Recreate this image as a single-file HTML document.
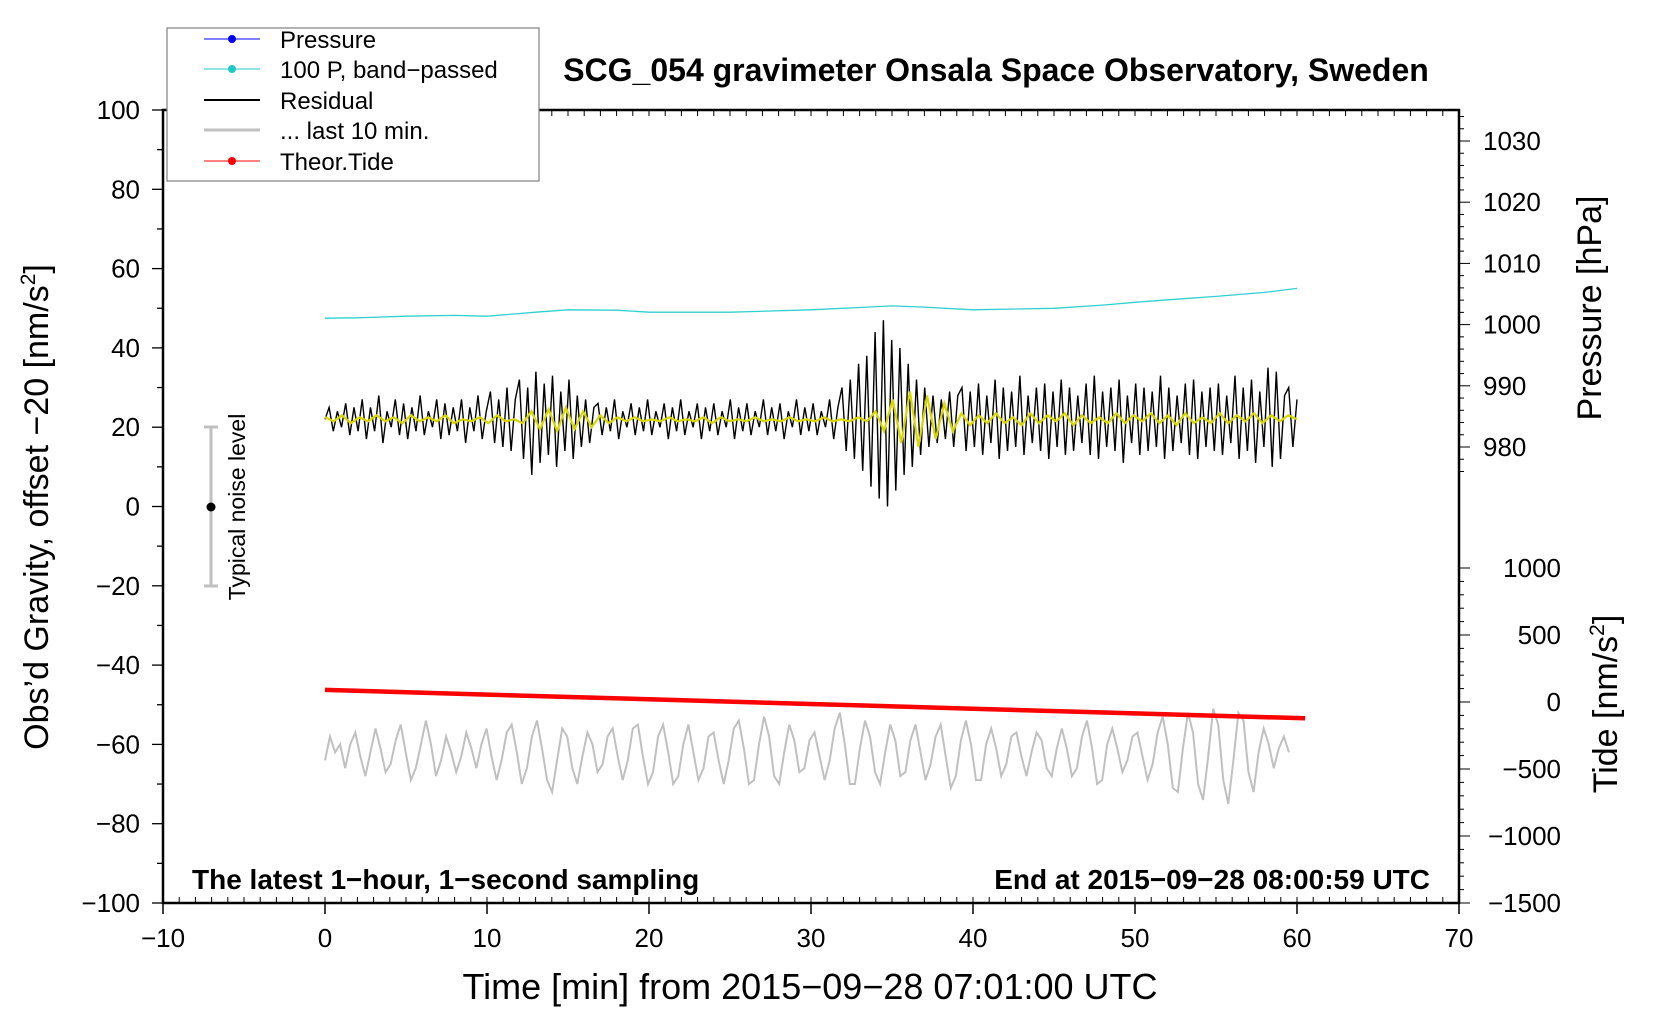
<!DOCTYPE html>
<html><head><meta charset="utf-8"><style>
html,body{margin:0;padding:0;background:#fff;}
svg{display:block;font-family:"Liberation Sans",Arial,sans-serif;}
</style></head><body>
<svg id="chart" width="1660" height="1020" viewBox="0 0 1660 1020" xmlns="http://www.w3.org/2000/svg">
<rect width="1660" height="1020" fill="#fff"/>
<g id="axes"></g>
<g id="series"></g>
<text x="996" y="81" font-size="32" font-weight="bold" text-anchor="middle">SCG_054 gravimeter Onsala Space Observatory, Sweden</text>
<text x="192" y="889" font-size="28" font-weight="bold">The latest 1−hour, 1−second sampling</text>
<text x="1430" y="889" font-size="28" font-weight="bold" text-anchor="end">End at 2015−09−28 08:00:59 UTC</text>
<text x="810" y="999" font-size="36" text-anchor="middle">Time [min] from 2015−09−28 07:01:00 UTC</text>
<text transform="translate(48,507) rotate(-90)" font-size="34" text-anchor="middle">Obs’d Gravity, offset −20 [nm/s<tspan font-size="21" dy="-13">2</tspan><tspan dy="13">]</tspan></text>
<text transform="translate(1601,308) rotate(-90)" font-size="34" text-anchor="middle">Pressure [hPa]</text>
<text transform="translate(1617,704) rotate(-90)" font-size="34" text-anchor="middle">Tide [nm/s<tspan font-size="21" dy="-13">2</tspan><tspan dy="13">]</tspan></text>
<g>
<line x1="211" y1="427" x2="211" y2="586" stroke="#c0c0c0" stroke-width="3"/>
<line x1="204" y1="427" x2="218" y2="427" stroke="#c0c0c0" stroke-width="3"/>
<line x1="204" y1="586" x2="218" y2="586" stroke="#c0c0c0" stroke-width="3"/>
<circle cx="211" cy="507" r="4.5" fill="#000"/>
<text transform="translate(245,507) rotate(-90)" font-size="23" text-anchor="middle">Typical noise level</text>
</g>
<g id="legend">
<rect x="167" y="28" width="372" height="153" fill="#fff" stroke="#808080" stroke-width="1.2"/>
<g><line x1="204" y1="39" x2="260" y2="39" stroke="#0000ff" stroke-width="1"/><circle cx="232" cy="39" r="4" fill="#0000ff"/><text x="280" y="48" font-size="24">Pressure</text></g>
<g><line x1="204" y1="69" x2="260" y2="69" stroke="#20c8c8" stroke-width="1"/><circle cx="232" cy="69" r="4" fill="#20c8c8"/><text x="280" y="78" font-size="24">100 P, band−passed</text></g>
<g><line x1="204" y1="100" x2="260" y2="100" stroke="#000" stroke-width="2"/><text x="280" y="109" font-size="24">Residual</text></g>
<g><line x1="204" y1="130" x2="260" y2="130" stroke="#c0c0c0" stroke-width="3"/><text x="280" y="139" font-size="24">... last 10 min.</text></g>
<g><line x1="204" y1="161" x2="260" y2="161" stroke="#ff0000" stroke-width="1"/><circle cx="232" cy="161" r="4" fill="#ff0000"/><text x="280" y="170" font-size="24">Theor.Tide</text></g>
</g>
</svg>
<script>
// ---- data ----
const xTicks = [-10,0,10,20,30,40,50,60,70];
const yTicks = [100,80,60,40,20,0,-20,-40,-60,-80,-100];
const pressureTicks = [1030,1020,1010,1000,990,980];
const tideTicks = [1000,500,0,-500,-1000,-1500];

const bandTimes = [0,2,5,8,10,13,15,18,20,25,30,33,35,37,40,45,48,50,53,55,58,60];
const bandValues = [47.5,47.6,48,48.2,48,49,49.6,49.5,49,49,49.6,50.2,50.6,50.3,49.6,50,50.8,51.5,52.4,53,54,55];

const residualValues = [22,25,19,24,20,26,18,25,19,
27,17,25,19,28,16,24,20,27,18,26,17,25,19,28,18,24,20,27,17,26,18,25,19,27,16,25,19,28,17,24,
29,16,27,15,30,14,27,
32,12,30,8,34,11,31,13,33,10,29,14,32,12,28,15,27,16,25,
26,18,25,19,27,17,24,20,26,18,25,19,27,18,24,20,26,17,25,19,27,18,24,20,26,17,25,19,26,18,24,20,27,17,25,19,26,18,24,20,27,18,25,19,26,17,24,20,27,18,25,19,26,18,24,20,27,17,25,
30,14,32,12,36,9,38,
5,44,2,47,0,42,4,40,8,36,10,
32,13,30,15,28,16,27,17,29,15,28,
30,14,29,15,31,13,28,16,32,12,30,14,29,15,33,13,28,16,30,14,31,12,29,15,32,13,30,14,28,16,31,13,33,12,29,15,30,14,32,11,28,16,31,13,30,14,29,15,33,12,30,14,28,16,31,13,32,12,29,15,30,14,31,13,28,16,33,12,30,14,32,11,29,15,35,10,34,12,28,30,15,27];

const filteredValues = [22.5,21.5,23,21,22.5,21.5,23,21.5,22.5,21,23,21.5,22.5,21.5,23,21,22,21.5,22.5,21,23,21.5,22,21,
24,19.5,24.5,19,25,19.5,24,20,23,21,22.5,21.5,22.5,21.5,22,21.5,22.5,21.5,22,21.5,22.5,21,22.5,21.5,22,21.5,22.5,21.5,22,21.5,22.5,21.5,22,21.5,22.5,21.5,22,21.5,22.5,21.5,
24,19,27,16,29,15,28,17,26,19,
23.5,20.5,23,21,23.5,21,22.5,20.5,23.5,21,23,21.5,23.5,20.5,23,21,22.5,21,23.5,21,23,21.5,23.5,21,23,20.5,23.5,21,22.5,21,23.5,21,23,21.5,23.5,21,23,21.5,23,22];

const gravityLastValues = [-64,-58,-62,-60,-66,-60,-57,-63,-68,-62,-56,-61,-67,-65,-59,-55,-62,-69,-66,-60,-54,-60,-68,-64,-58,-62,-67,-63,-57,-61,
-66,-60,-56,-63,-69,-64,-57,-55,-62,-70,-66,-58,-54,-61,-69,-72,-64,-56,-58,-66,-70,-63,-57,-60,-67,-65,-58,-56,-63,-69,
-64,-56,-55,-63,-70,-67,-58,-55,-62,-70,-68,-60,-55,-62,-69,-66,-58,-57,-64,-70,-64,-56,-54,-61,-70,-69,-60,-53,-58,-68,
-70,-62,-55,-59,-67,-66,-59,-57,-63,-69,-64,-56,-52,-60,-70,-70,-61,-54,-58,-67,-70,-62,-55,-59,-68,-67,-59,-55,-62,-69,
-65,-58,-55,-63,-71,-68,-59,-54,-60,-69,-69,-60,-56,-61,-68,-65,-58,-57,-63,-68,-62,-57,-59,-66,-68,-61,-56,-61,-68,-66,
-58,-54,-61,-70,-69,-60,-56,-61,-67,-64,-58,-57,-63,-69,-65,-57,-53,-60,-71,-72,-61,-52,-57,-70,-74,-63,-51,-55,-69,-75,
-64,-52,-54,-67,-72,-62,-56,-60,-66,-61,-58,-62];

const tideTimes = [0,10,20,30,40,50,60.5];
const tideValues = [90,55,20,-15,-50,-85,-122];

// ---- scales ----
const X0 = 163, X1 = 1459, Y0 = 110, Y1 = 903;
const xs = t => X0 + (t + 10) / 80 * (X1 - X0);
const ys = g => Y1 - (g + 100) / 200 * (Y1 - Y0);
const yp = p => 447 - (p - 980) * 6.12;
const yt = v => 903 - (v + 1500) / 500 * 67;

const NS = "http://www.w3.org/2000/svg";
const axes = document.getElementById('axes');
const series = document.getElementById('series');
function mk(tag, attrs, parent) {
  const e = document.createElementNS(NS, tag);
  for (const k in attrs) e.setAttribute(k, attrs[k]);
  parent.appendChild(e);
  return e;
}

const frame = mk('rect', {x:X0, y:Y0, width:X1-X0, height:Y1-Y0, fill:'none', stroke:'#000', 'stroke-width':2.5}, axes);



for (let m = -10; m <= 70; m++) {
  const x = xs(m);
  mk('line', {x1:x, y1:Y1, x2:x, y2:Y1-6, stroke:'#000', 'stroke-width':1}, axes);
  mk('line', {x1:x, y1:Y0, x2:x, y2:Y0+6, stroke:'#000', 'stroke-width':1}, axes);
}
xTicks.forEach(v => {
  const x = xs(v);
  mk('line', {x1:x, y1:Y1, x2:x, y2:Y1+11, stroke:'#000', 'stroke-width':1.5}, axes);
  const t = mk('text', {x:x, y:947, 'font-size':26, 'text-anchor':'middle'}, axes);
  t.textContent = v < 0 ? '−' + Math.abs(v) : v;
  
  
});
for (let g = -100; g <= 100; g += 10) {
  const y = ys(g);
  mk('line', {x1:X0, y1:y, x2:X0-(g % 20 === 0 ? 11 : 6), y2:y, stroke:'#000', 'stroke-width':1.3}, axes);
}
yTicks.forEach(v => {
  const t = mk('text', {x:140, y:ys(v)+9, 'font-size':26, 'text-anchor':'end'}, axes);
  t.textContent = v < 0 ? '−' + Math.abs(v) : v;
  
  
});
for (let p = 976; p <= 1034; p += 2) {
  const y = yp(p);
  mk('line', {x1:X1, y1:y, x2:X1+(p % 10 === 0 ? 11 : 5), y2:y, stroke:'#000', 'stroke-width':1}, axes);
}
pressureTicks.forEach(v => {
  const t = mk('text', {x:1483, y:yp(v)+9, 'font-size':26}, axes);
  t.textContent = v;
  
  
});
for (let v = -1500; v <= 1000; v += 100) {
  const y = yt(v);
  mk('line', {x1:X1, y1:y, x2:X1+(v % 500 === 0 ? 11 : 5), y2:y, stroke:'#000', 'stroke-width':1}, axes);
}
tideTicks.forEach(v => {
  const t = mk('text', {x:1561, y:yt(v)+9, 'font-size':26, 'text-anchor':'end'}, axes);
  t.textContent = v < 0 ? '−' + Math.abs(v) : v;
  
  
});

function pathFrom(times, vals, yfn) {
  return vals.map((v, i) => (i ? 'L' : 'M') + xs(times(i)).toFixed(1) + ',' + yfn(v).toFixed(1)).join('');
}

const cy = mk('path', {d:pathFrom(i => bandTimes[i], bandValues, ys), fill:'none', stroke:'#30d0d0', 'stroke-width':1.3}, series);



const rn = residualValues.length;
const res = mk('path', {d:pathFrom(i => i * 60 / (rn - 1), residualValues, ys), fill:'none', stroke:'#000', 'stroke-width':1.4}, series);



const fn = filteredValues.length;
const fl = mk('path', {d:pathFrom(i => i * 60 / (fn - 1), filteredValues, ys), fill:'none', stroke:'#d8d800', 'stroke-width':2.2}, series);



const gn = gravityLastValues.length;
const gl = mk('path', {d:pathFrom(i => i * 59.5 / (gn - 1), gravityLastValues, ys), fill:'none', stroke:'#c0c0c0', 'stroke-width':2}, series);



const td = mk('path', {d:pathFrom(i => tideTimes[i], tideValues, yt), fill:'none', stroke:'#ff0000', 'stroke-width':4.5}, series);


</script>
</body></html>
